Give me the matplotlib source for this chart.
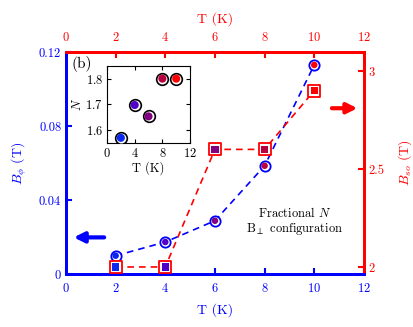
import matplotlib
matplotlib.use("Agg")
import matplotlib.pyplot as plt

plt.rcParams['font.family'] = ['cmr10', 'DejaVu Serif']
plt.rcParams['mathtext.fontset'] = 'cm'
plt.rcParams['axes.formatter.use_mathtext'] = True

# Data
T = [2, 4, 6, 8, 10]
B_phi = [0.0099, 0.0173, 0.0288, 0.0585, 0.113]
B_so = [2.0, 2.0, 2.6, 2.6, 2.9]
N_frac = [1.571, 1.698, 1.654, 1.80, 1.80]
point_colors = ['#0a28f0', '#5000c8', '#800080', '#b80040', '#ff0000']
x_ticks = [0, 2, 4, 6, 8, 10, 12]
left_ticks = [0, 0.04, 0.08, 0.12]
left_ticklabels = ['0', '0.04', '0.08', '0.12']
right_ticks = [2, 2.5, 3]
right_ticklabels = ['2', '2.5', '3']
inset_xticks = [0, 4, 8, 12]
inset_yticks = [1.6, 1.7, 1.8]

BLUE = '#0000ff'
RED = '#ff0000'
FS = 9

fig = plt.figure(figsize=(4.14, 3.27), dpi=100)
ax = fig.add_axes([0.1594, 0.162, 0.7196, 0.679])
ax2 = ax.twinx()

ax.set_xlim(0, 12)
ax.set_ylim(0, 0.12)
ax2.set_ylim(1.964, 3.097)

# Blue circles
ax.plot(T, B_phi, ls=(0, (4, 3)), color=BLUE, lw=1.2, zorder=2)
ax.scatter(T, B_phi, s=55, facecolors='white', edgecolors=BLUE, linewidths=1.3, zorder=3)
ax.scatter(T, B_phi, s=22, c=point_colors, edgecolors='none', zorder=4)

# Red squares
ax2.plot(T, B_so, ls=(0, (4, 3)), color=RED, lw=1.2, zorder=2)
ax2.scatter(T, B_so, s=80, marker='s', facecolors='white', edgecolors=RED, linewidths=1.3, zorder=3)
ax2.scatter(T, B_so, s=28, marker='s', c=point_colors, edgecolors='none', zorder=4)

# Ticks / spines
ax.set_xticks(x_ticks)
ax.set_yticks(left_ticks)
ax.set_yticklabels(left_ticklabels)
ax.tick_params(axis='x', direction='in', colors=BLUE, labelsize=FS, length=4, width=1.5, pad=6)
ax.tick_params(axis='y', direction='in', colors=BLUE, labelsize=FS, length=4, width=1.5)
ax2.set_yticks(right_ticks)
ax2.set_yticklabels(right_ticklabels)
ax2.tick_params(axis='y', direction='in', colors=RED, labelsize=FS, length=4, width=1.5)

for a in (ax, ax2):
    a.spines['left'].set_color(BLUE)
    a.spines['bottom'].set_color(BLUE)
    a.spines['right'].set_color(RED)
    a.spines['top'].set_color(RED)
    for s in a.spines.values():
        s.set_linewidth(2)

secx = ax.secondary_xaxis('top')
secx.set_xticks(x_ticks)
secx.tick_params(axis='x', direction='in', colors=RED, labelsize=FS, length=4, width=1.5, pad=6)
secx.spines['top'].set_color(RED)
secx.spines['top'].set_linewidth(2)
secx.set_xlabel('T (K)', color=RED, fontsize=FS + 1, labelpad=6)

ax.set_xlabel('T (K)', color=BLUE, fontsize=FS + 1, labelpad=6)
ax.set_ylabel(r'$B_\phi$ (T)', color=BLUE, fontsize=FS + 1, labelpad=7)
ax2.set_ylabel(r'$B_{so}$ (T)', color=RED, fontsize=FS + 1, labelpad=8)

# Arrows
ax.annotate('', xy=(0.2, 0.0198), xytext=(1.65, 0.0198),
            arrowprops=dict(arrowstyle='-|>,head_length=0.6,head_width=0.3', color=BLUE, lw=3))
ax2.annotate('', xy=(11.85, 2.81), xytext=(10.6, 2.81),
             arrowprops=dict(arrowstyle='-|>,head_length=0.6,head_width=0.3', color=RED, lw=3))

ax.text(0.02, 0.982, '(b)', transform=ax.transAxes, ha='left', va='top', fontsize=FS + 2, color='black')
ax2.text(9.2, 2.232, 'Fractional $N$\nB$_\\perp$ configuration', ha='center', va='center',
         fontsize=FS, color='black', linespacing=1.05)

# Inset
ins = fig.add_axes([0.2585, 0.5627, 0.2005, 0.2355])
ins.set_xlim(0, 12)
ins.set_ylim(1.551, 1.849)
ins.scatter(T, N_frac, s=70, facecolors='white', edgecolors='black', linewidths=1.2, zorder=3)
ins.scatter(T, N_frac, s=34, c=point_colors, edgecolors='none', zorder=4)
ins.set_xticks(inset_xticks)
ins.set_yticks(inset_yticks)
ins.tick_params(direction='in', top=True, right=True, labelsize=FS, length=3, pad=3)
ins.set_xlabel('T (K)', fontsize=FS, labelpad=1)
ins.set_ylabel('$N$', fontsize=FS, labelpad=1)

fig.savefig('out.png', dpi=100)
